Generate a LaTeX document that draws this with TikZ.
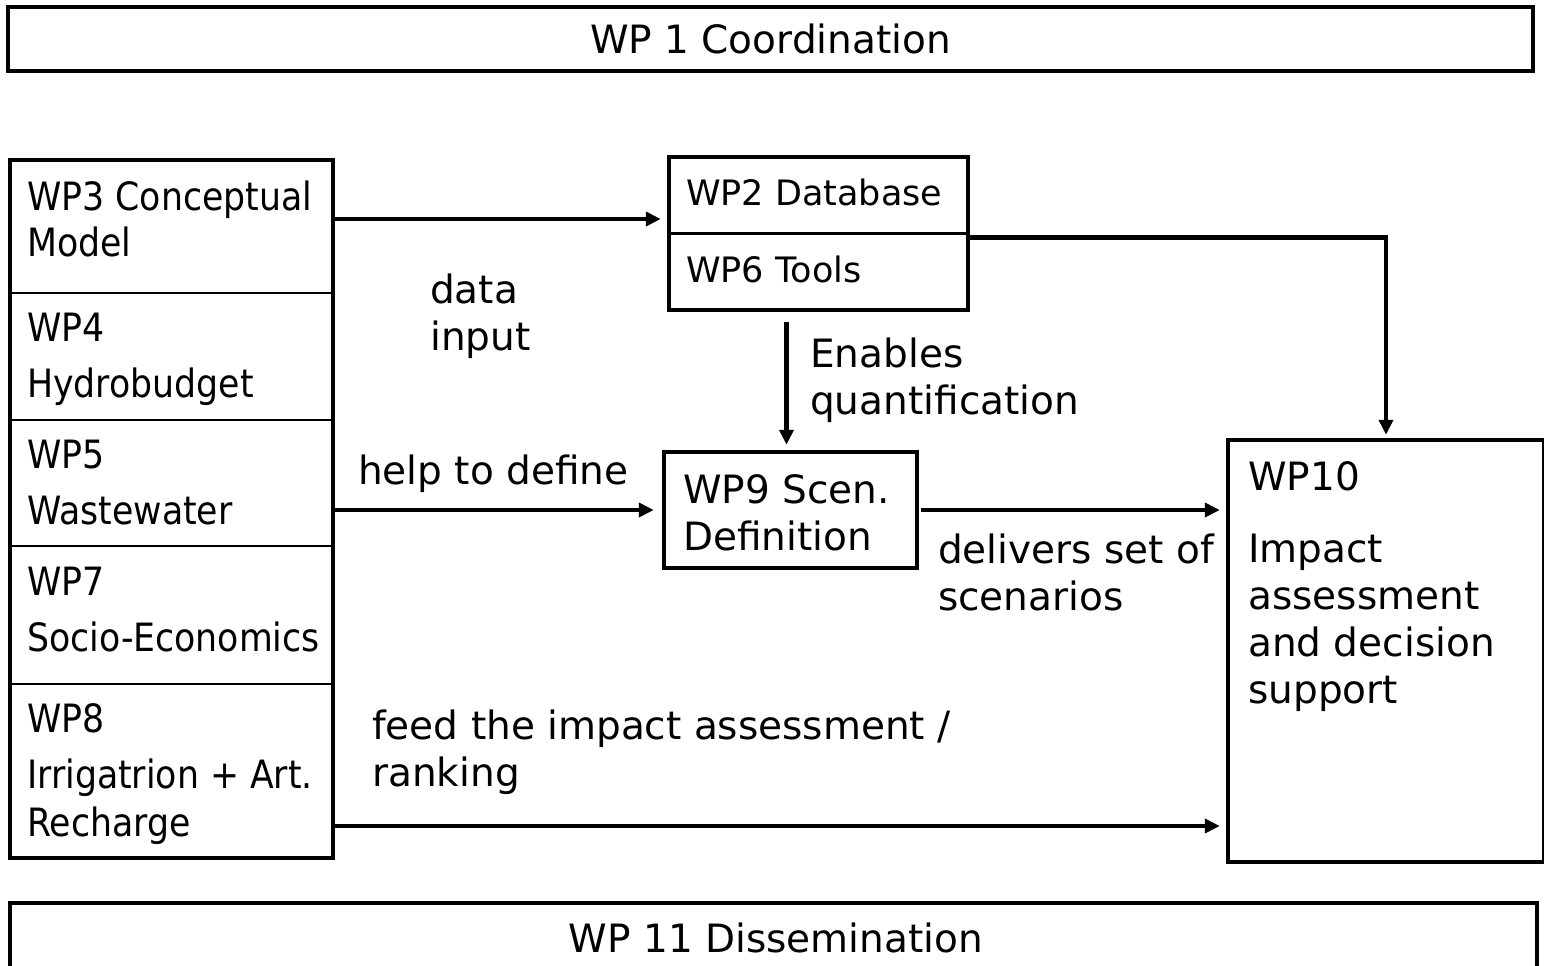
\documentclass[tikz,border=0pt]{standalone}
\usepackage{fontspec}
\setmainfont{DejaVu Sans}
\newfontfamily\narrowfont[FakeStretch=0.89]{DejaVu Sans}
\usetikzlibrary{arrows.meta,calc}
\begin{document}
\begin{tikzpicture}[x=1pt,y=-1pt,
  box/.style={draw,line width=4.5pt,inner sep=0pt},
  cellbox/.style={inner sep=0pt,minimum width=323pt},
  divider/.style={line width=2.5pt},
  lbl/.style={anchor=north west,inner sep=0pt,align=left,font=\fontsize{39}{47}\selectfont},
  celltxt/.style={anchor=north west,inner sep=0pt,align=left,font=\narrowfont\fontsize{39}{47}\selectfont},
  smalltxt/.style={anchor=north west,inner sep=0pt,align=left,font=\fontsize{35}{42}\selectfont},
  arr/.style={line width=4.5pt,-{Triangle[length=15pt,width=14pt]}},
]
\useasboundingbox (0,0) rectangle (1544,966);
\clip (0,0) rectangle (1544,966);

% top and bottom bars
\node[box,minimum width=1525pt,minimum height=64pt,font=\fontsize{39}{47}\selectfont] (wp1) at (770.5,39) {WP 1 Coordination};
\node[box,minimum width=1527pt,minimum height=97pt] (wp11) at (773.5,951.5) {};
\node[anchor=base,inner sep=0pt,font=\fontsize{39}{47}\selectfont] (wp11t) at (776,952) {WP 11 Dissemination};

% left column
\node[box,minimum width=323pt,minimum height=698pt] (left) at (171.5,509) {};
\node[cellbox,minimum height=133pt] (wp3) at (171.5,226.5) {};
\node[cellbox,minimum height=127pt] (wp4) at (171.5,356.5) {};
\node[cellbox,minimum height=126pt] (wp5) at (171.5,483) {};
\node[cellbox,minimum height=138pt] (wp7) at (171.5,615) {};
\node[cellbox,minimum height=174pt] (wp8) at (171.5,771) {};
\draw[divider] (wp3.south west) -- (wp3.south east);
\draw[divider] (wp4.south west) -- (wp4.south east);
\draw[divider] (wp5.south west) -- (wp5.south east);
\draw[divider] (wp7.south west) -- (wp7.south east);

\node[celltxt] (t3) at (27,181) {WP3 Conceptual\\[-1pt]Model};
\node[celltxt] (t4) at (27,312.6) {WP4\\[9pt]Hydrobudget};
\node[celltxt] (t5) at (27,439.6) {WP5\\[9pt]Wastewater};
\node[celltxt] (t7) at (27,566.6) {WP7\\[9pt]Socio-Economics};
\node[celltxt] (t8) at (27,703.6) {WP8\\[9pt]Irrigatrion + Art.\\[1pt]Recharge};

% WP2 / WP6
\node[box,minimum width=299pt,minimum height=153pt] (wp2) at (818.5,233.5) {};
\draw[divider] (wp2.west) -- (wp2.east);
\node[smalltxt] (t2) at (686,178.4) {WP2 Database};
\node[smalltxt] (t6) at (686,255.4) {WP6 Tools};

% WP9
\node[box,minimum width=253pt,minimum height=116pt] (wp9) at (790.5,510) {};
\node[lbl] (t9) at (683,474.6) {WP9 Scen.\\Definition};

% WP10
\node[box,minimum width=316pt,minimum height=422pt] (wp10) at (1386,651) {};
\node[lbl] (t10) at (1248,461.6) {WP10\\[25pt]Impact\\assessment\\and decision\\support};

% labels
\node[lbl] (ldata) at (430,273.4) {data\\input};
\node[lbl] (lenab) at (810,337.4) {Enables\\quantification};
\node[lbl] (lhelp) at (358,454.4) {help to define};
\node[lbl] (ldeliv) at (938,533.4) {delivers set of\\scenarios};
\node[lbl] (lfeed) at (372,709.4) {feed the impact assessment /\\ranking};

% connectors
\draw[arr,shorten >=6pt] ($(wp3.east)+(0,-7.5)$) -- ($(wp3.east -| wp2.west)+(0,-7.5)$);
\draw[arr,shorten >=3pt] ($(wp2.east)+(0,4)$) -| (wp10.north);
\draw[arr,shorten >=5pt] ($(wp9.north |- wp2.south)+(-4,10)$) -- ($(wp9.north)+(-4,0)$);
\draw[arr,shorten >=8pt] (wp5.east |- wp9.west) -- (wp9.west);
\draw[arr,shorten <=2pt,shorten >=6pt] (wp9.east) -- (wp9.east -| wp10.west);
\draw[arr,shorten >=6pt] ($(wp8.east)+(0,55)$) -- ($(wp8.east -| wp10.west)+(0,55)$);
\end{tikzpicture}
\end{document}
